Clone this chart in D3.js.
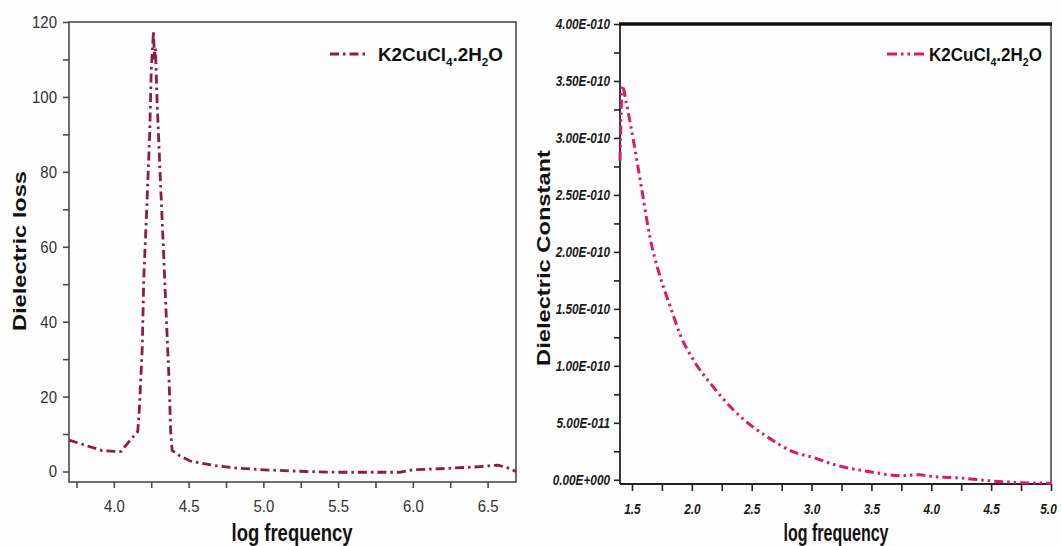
<!DOCTYPE html>
<html>
<head>
<meta charset="utf-8">
<script src="https://cdn.jsdelivr.net/npm/d3@7"></script>
<style>
    body { margin: 0; background: #fdfdfd; }
    svg { display: block; }
</style>
</head>
<body>
<svg id="chart" width="1062" height="546"></svg>
<script>
// left panel: dielectric loss vs log frequency
var lossFreq = [3.70, 3.81, 3.92, 4.01, 4.05, 4.10, 4.16, 4.17, 4.19, 4.20, 4.22, 4.24, 4.25, 4.265, 4.272, 4.278,
    4.29, 4.31, 4.33, 4.35, 4.37, 4.38, 4.39, 4.44, 4.51, 4.67, 4.82, 5.00, 5.28, 5.50, 5.73, 5.91, 6.00, 6.18, 6.41, 6.57, 6.64, 6.69];
var lossValues = [8.4, 7.0, 5.6, 5.4, 5.4, 7.9, 10.7, 16.2, 33, 51.5, 70, 90.5, 107, 117.5, 110, 113,
    98, 79, 60.8, 42, 23.7, 10.7, 5.6, 4.2, 2.8, 1.6, 0.9, 0.46, 0, -0.2, -0.2, -0.2, 0.46, 0.74, 1.2, 1.7, 0.9, 0];
var lossXTicks = [4.0, 4.5, 5.0, 5.5, 6.0, 6.5];
var lossXMinor = [3.75, 4.25, 4.75, 5.25, 5.75, 6.25];
var lossYTicks = [0, 20, 40, 60, 80, 100, 120];
var lossYMinor = [10, 30, 50, 70, 90, 110];

// right panel: dielectric constant vs log frequency
var constFreq = [1.40, 1.42, 1.45, 1.51, 1.58, 1.65, 1.73, 1.82, 1.90, 2.02, 2.16, 2.35, 2.64, 2.86, 3.00, 3.20,
    3.49, 3.75, 3.90, 4.00, 4.25, 4.50, 4.75, 5.00];
var constValues = [2.80e-10, 3.46e-10, 3.32e-10, 2.99e-10, 2.56e-10, 2.13e-10, 1.80e-10, 1.52e-10, 1.28e-10, 1.04e-10,
    0.84e-10, 0.61e-10, 0.37e-10, 0.24e-10, 0.20e-10, 0.13e-10, 0.07e-10, 0.035e-10, 0.045e-10, 0.03e-10,
    0.015e-10, -0.01e-10, -0.025e-10, -0.03e-10];
var constXTicks = [1.5, 2.0, 2.5, 3.0, 3.5, 4.0, 4.5, 5.0];
var constXMinor = [1.75, 2.25, 2.75, 3.25, 3.75, 4.25, 4.75];
var constYTicks = [0, 0.5e-10, 1.0e-10, 1.5e-10, 2.0e-10, 2.5e-10, 3.0e-10, 3.5e-10, 4.0e-10];
var constYLabels = ["0.00E+000", "5.00E-011", "1.00E-010", "1.50E-010", "2.00E-010", "2.50E-010", "3.00E-010", "3.50E-010", "4.00E-010"];
var constYMinor = [0.25e-10, 0.75e-10, 1.25e-10, 1.75e-10, 2.25e-10, 2.75e-10, 3.25e-10, 3.75e-10];

var seriesName = "K2CuCl";

var svg = d3.select("#chart");
var font = "'Liberation Sans', Arial, sans-serif";

//压缩文字宽度
function squeeze(sel, k) {
    sel.each(function () {
        var w = this.getComputedTextLength();
        d3.select(this).attr("textLength", w * k).attr("lengthAdjust", "spacingAndGlyphs");
    });
}

function legendText(g, x, y, size, weight) {
    var t = g.append("text").attr("x", x).attr("y", y)
        .style("font-family", font).style("font-size", size + "px").style("font-weight", weight).attr("fill", "#111");
    t.append("tspan").text(seriesName);
    t.append("tspan").attr("dy", 5).style("font-size", (size * 0.62) + "px").text("4");
    t.append("tspan").attr("dy", -5).text(".2H");
    t.append("tspan").attr("dy", 5).style("font-size", (size * 0.62) + "px").text("2");
    t.append("tspan").attr("dy", -5).text("O");
    return t;
}

function fitWidth(t, x, width) {
    var w = t.node().getComputedTextLength();
    var k = width / w;
    t.attr("transform", "translate(" + x + ",0) scale(" + k + ",1) translate(" + (-x) + ",0)");
}

// ---------- left panel ----------
var L = {left: 69, right: 516, top: 22, bottom: 482};
var xL = d3.scaleLinear().domain([3.70, 6.69]).range([L.left, L.right]);
var yL = d3.scaleLinear().domain([-2.8, 120]).range([L.bottom, L.top]);
var gL = svg.append("g");

gL.append("rect").attr("x", L.left).attr("y", L.top).attr("width", L.right - L.left).attr("height", L.bottom - L.top)
    .attr("fill", "none").attr("stroke", "#4a4a4a").attr("stroke-width", 1.6);

gL.append("g").attr("transform", "translate(0," + L.bottom + ")")
    .call(d3.axisBottom(xL).tickValues(lossXTicks).tickSize(6).tickPadding(12).tickSizeOuter(0).tickFormat(d3.format(".1f")));
gL.append("g").attr("transform", "translate(0," + L.bottom + ")")
    .call(d3.axisBottom(xL).tickValues(lossXMinor).tickSize(6).tickSizeOuter(0).tickFormat(""));
gL.append("g").attr("transform", "translate(" + L.left + ",0)")
    .call(d3.axisLeft(yL).tickValues(lossYTicks).tickSize(6).tickPadding(6).tickSizeOuter(0).tickFormat(d3.format("d")));
gL.append("g").attr("transform", "translate(" + L.left + ",0)")
    .call(d3.axisLeft(yL).tickValues(lossYMinor).tickSize(6).tickSizeOuter(0).tickFormat(""));
gL.selectAll(".domain").remove();
gL.selectAll(".tick line").attr("stroke", "#4a4a4a").attr("stroke-width", 1.6);
gL.selectAll(".tick text").style("font-family", font).style("font-size", "17px").attr("fill", "#333")
    .call(squeeze, 0.88);

var lineL = d3.line().x(function (d) { return xL(d[0]); }).y(function (d) { return yL(d[1]); });
gL.append("path").datum(d3.zip(lossFreq, lossValues)).attr("d", lineL)
    .attr("fill", "none").attr("stroke", "#8c1c4c").attr("stroke-width", 2.8)
    .attr("stroke-dasharray", "9,4,2.5,4");

gL.append("line").attr("x1", 330).attr("x2", 368).attr("y1", 54).attr("y2", 54)
    .attr("stroke", "#8c1c4c").attr("stroke-width", 2.8).attr("stroke-dasharray", "9,4,2.5,4");
var legL = legendText(gL, 378, 61, 18, "bold");
fitWidth(legL, 378, 125);

gL.append("text").attr("x", 292).attr("y", 541).attr("text-anchor", "middle")
    .style("font-family", font).style("font-size", "23px").style("font-weight", "bold").attr("fill", "#111")
    .attr("textLength", 121).attr("lengthAdjust", "spacingAndGlyphs")
    .text("log frequency");

gL.append("text").attr("transform", "translate(25.5,251) scale(0.74,1) rotate(-90)").attr("text-anchor", "middle")
    .style("font-family", font).style("font-size", "23.6px").style("font-weight", "bold").attr("fill", "#111")
    .text("Dielectric loss");

// ---------- right panel ----------
var R = {left: 620, right: 1051, top: 24, bottom: 484};
var xR = d3.scaleLinear().domain([1.40, 5.0]).range([R.left, R.right]);
var yR = d3.scaleLinear().domain([-0.037e-10, 4.0e-10]).range([R.bottom, R.top]);
var gR = svg.append("g");

gR.append("line").attr("x1", R.left).attr("x2", R.left).attr("y1", R.top).attr("y2", R.bottom).attr("stroke", "#222").attr("stroke-width", 1.8);
gR.append("line").attr("x1", R.left).attr("x2", R.right).attr("y1", R.bottom).attr("y2", R.bottom).attr("stroke", "#222").attr("stroke-width", 1.8);
gR.append("line").attr("x1", R.right).attr("x2", R.right).attr("y1", R.top).attr("y2", R.bottom).attr("stroke", "#333").attr("stroke-width", 1.4);
gR.append("line").attr("x1", R.left - 1).attr("x2", R.right + 1).attr("y1", R.top).attr("y2", R.top).attr("stroke", "#111").attr("stroke-width", 3.5);

var axXR = gR.append("g").attr("transform", "translate(0," + R.bottom + ")")
    .call(d3.axisBottom(xR).tickValues(constXTicks).tickSize(7).tickPadding(12).tickSizeOuter(0).tickFormat(d3.format(".1f")));
gR.append("g").attr("transform", "translate(0," + R.bottom + ")")
    .call(d3.axisBottom(xR).tickValues(constXMinor).tickSize(7).tickSizeOuter(0).tickFormat(""));
gR.append("g").attr("transform", "translate(" + R.left + ",0)")
    .call(d3.axisLeft(yR).tickValues(constYTicks).tickSize(6).tickPadding(4).tickSizeOuter(0)
        .tickFormat(function (d, i) { return constYLabels[i]; }));
gR.append("g").attr("transform", "translate(" + R.left + ",0)")
    .call(d3.axisLeft(yR).tickValues(constYMinor).tickSize(6).tickSizeOuter(0).tickFormat(""));
gR.selectAll(".domain").remove();
gR.selectAll(".tick line").attr("stroke", "#222").attr("stroke-width", 1.6);
gR.selectAll(".tick text").style("font-family", font).style("font-size", "15.5px")
    .style("font-weight", "bold").style("font-style", "italic").attr("fill", "#1a1a1a")
    .call(squeeze, 0.76);
// 最右边的标签贴着边缘，往里挪一点
axXR.selectAll(".tick text").filter(function (d) { return d === 5.0; }).attr("dx", -3);

var lineR = d3.line().curve(d3.curveMonotoneX).x(function (d) { return xR(d[0]); }).y(function (d) { return yR(d[1]); });
gR.append("path").datum(d3.zip(constFreq, constValues)).attr("d", lineR)
    .attr("fill", "none").attr("stroke", "#d81b6a").attr("stroke-width", 3)
    .attr("stroke-dasharray", "9,4,2.5,4,2.5,4");

gR.append("line").attr("x1", 887).attr("x2", 925).attr("y1", 54).attr("y2", 54)
    .attr("stroke", "#d81b6a").attr("stroke-width", 3).attr("stroke-dasharray", "10,4,2.5,4,2.5,4");
var legR = legendText(gR, 929, 61, 18, "bold");
fitWidth(legR, 929, 113);

gR.append("text").attr("x", 836).attr("y", 541).attr("text-anchor", "middle")
    .style("font-family", font).style("font-size", "23px").style("font-weight", "bold").attr("fill", "#111")
    .attr("textLength", 105).attr("lengthAdjust", "spacingAndGlyphs")
    .text("log frequency");

gR.append("text").attr("transform", "translate(550,258) scale(0.8,1) rotate(-90)").attr("text-anchor", "middle")
    .style("font-family", font).style("font-size", "23.7px").style("font-weight", "bold").attr("fill", "#111")
    .text("Dielectric Constant");
</script>
</body>
</html>
